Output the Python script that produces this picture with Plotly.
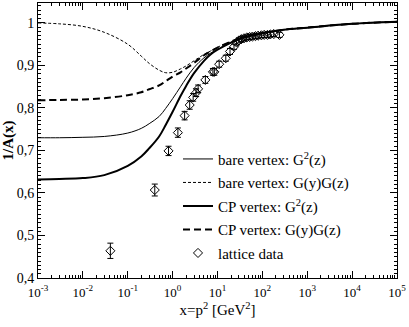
import plotly.graph_objects as go

# curves: x = p^2 [GeV^2]
curve_x = [1e-3, 3e-3, 1e-2, 3e-2, 0.1, 0.2, 0.3, 0.5, 0.7, 1, 1.5, 2, 3, 5, 7, 10,
           20, 30, 50, 100, 300, 1e3, 1e4, 1e5]
bare_g2 = [0.730, 0.730, 0.731, 0.733, 0.741, 0.752, 0.763, 0.780, 0.799, 0.822, 0.850,
           0.870, 0.895, 0.918, 0.929, 0.938, 0.954, 0.962, 0.969, 0.976, 0.984, 0.989,
           0.998, 1.003]
bare_gygz = [1.000, 0.998, 0.992, 0.978, 0.950, 0.922, 0.905, 0.889, 0.883, 0.884, 0.892,
             0.899, 0.911, 0.926, 0.934, 0.943, 0.956, 0.963, 0.969, 0.976, 0.984, 0.989,
             0.998, 1.003]
cp_g2 = [0.632, 0.633, 0.635, 0.642, 0.664, 0.686, 0.705, 0.733, 0.760, 0.791, 0.828,
         0.852, 0.882, 0.911, 0.926, 0.937, 0.954, 0.962, 0.969, 0.976, 0.984, 0.989,
         0.998, 1.003]
cp_gygz = [0.818, 0.819, 0.820, 0.823, 0.830, 0.837, 0.844, 0.853, 0.863, 0.874, 0.884,
           0.893, 0.906, 0.924, 0.933, 0.942, 0.956, 0.963, 0.969, 0.976, 0.984, 0.989,
           0.998, 1.003]

# lattice data
lat_x = [0.041, 0.40, 0.81, 1.31, 1.85, 2.40, 2.87, 3.34, 3.70, 5.36, 7.9, 8.5, 10.9,
         15.3, 19.0, 23.3, 26.7, 30, 34, 39, 45, 52, 60, 70, 80, 95, 110, 130, 150,
         180, 240]
lat_y = [0.464, 0.607, 0.699, 0.742, 0.782, 0.807, 0.825, 0.836, 0.845, 0.866, 0.885,
         0.885, 0.903, 0.917, 0.933, 0.944, 0.954, 0.959, 0.962, 0.964, 0.966, 0.967,
         0.968, 0.969, 0.970, 0.971, 0.972, 0.972, 0.973, 0.974, 0.972]
lat_err = [0.018, 0.014, 0.011, 0.011, 0.010, 0.010, 0.009, 0.009, 0.009, 0.008, 0.008,
           0.008, 0.007, 0.007, 0.007, 0.006, 0.006, 0.006, 0.006, 0.006, 0.006, 0.006,
           0.006, 0.006, 0.006, 0.006, 0.006, 0.006, 0.006, 0.006, 0.006]

x_tickvals = [1e-3, 1e-2, 1e-1, 1, 10, 100, 1e3, 1e4, 1e5]
x_ticktext = ["10<sup>-3</sup>", "10<sup>-2</sup>", "10<sup>-1</sup>", "10<sup>0</sup>",
              "10<sup>1</sup>", "10<sup>2</sup>", "10<sup>3</sup>", "10<sup>4</sup>",
              "10<sup>5</sup>"]
x_minor = [m * d for d in x_tickvals[:-1] for m in range(2, 10)]

FONT = "Liberation Serif, Times New Roman, serif"

fig = go.Figure()
fig.add_trace(go.Scatter(x=curve_x, y=bare_g2, mode="lines", line_shape="spline",
                         line=dict(color="black", width=1),
                         name="bare vertex: G<sup>2</sup>(z)", legendgroup="a"))
fig.add_trace(go.Scatter(x=curve_x, y=bare_gygz, mode="lines", line_shape="spline",
                         line=dict(color="black", width=1, dash="3px,2px"),
                         name="bare vertex: G(y)G(z)", legendgroup="b"))
fig.add_trace(go.Scatter(x=curve_x, y=cp_g2, mode="lines", line_shape="spline",
                         line=dict(color="black", width=2),
                         name="CP vertex: G<sup>2</sup>(z)", legendgroup="c"))
fig.add_trace(go.Scatter(x=curve_x, y=cp_gygz, mode="lines", line_shape="spline",
                         line=dict(color="black", width=2, dash="7px,4px"),
                         name="CP vertex: G(y)G(z)", legendgroup="d"))
fig.add_trace(go.Scatter(x=lat_x, y=lat_y, mode="markers",
                         marker=dict(symbol="diamond-open", size=7, color="black",
                                     line=dict(width=1)),
                         error_y=dict(type="data", array=lat_err, color="black",
                                      thickness=1, width=3),
                         name="lattice data", legendgroup="e"))

fig.update_layout(
    width=409, height=327,
    margin=dict(l=35, r=12, t=2, b=49),
    paper_bgcolor="white", plot_bgcolor="white",
    separators=",.",
    font=dict(family=FONT, size=14, color="black"),
    showlegend=True,
    legend=dict(x=0.39, y=0.492, xanchor="left", yanchor="top",
                bgcolor="rgba(0,0,0,0)", font=dict(size=15, family=FONT),
                itemwidth=30, tracegroupgap=1, traceorder="grouped"),
)
fig.update_xaxes(
    type="log", range=[-3, 5],
    tickmode="array", tickvals=x_tickvals, ticktext=x_ticktext,
    tickfont=dict(size=13), ticklabelstandoff=2,
    ticks="inside", ticklen=7, tickcolor="black", showgrid=False, zeroline=False,
    showline=True, linecolor="black", linewidth=1, mirror="ticks",
    minor=dict(tickmode="array", tickvals=x_minor, ticks="inside", ticklen=3,
               tickcolor="black", showgrid=False),
    title=dict(text="x=p<sup>2</sup> [GeV<sup>2</sup>]", font=dict(size=15), standoff=5),
)
fig.update_yaxes(
    range=[0.4, 1.047], dtick=0.1, tick0=0.4,
    ticks="inside", ticklen=7, tickcolor="black", showgrid=False, zeroline=False,
    showline=True, linecolor="black", linewidth=1, mirror="ticks",
    minor=dict(dtick=0.01, ticks="inside", ticklen=3, tickcolor="black", showgrid=False),
    title=dict(text="<b>1/A(x)</b>", font=dict(size=15), standoff=4),
)

# drop the page's default body margin so the figure sits at the window's corner
fig.write_html("out.html", config={"displayModeBar": False},
               post_script="document.body.style.margin='0';")
